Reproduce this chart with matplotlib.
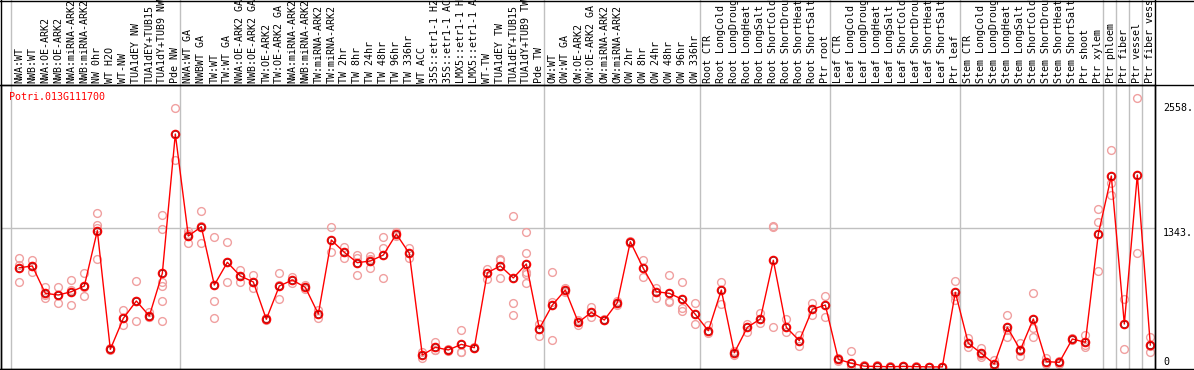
import matplotlib
matplotlib.use("Agg")
import matplotlib.pyplot as plt
from matplotlib.lines import Line2D
from matplotlib.transforms import blended_transform_factory

geneID = "Potri.013G111700"

sampleLabels = [
    "NWA:WT", "NWB:WT", "NWA:OE-ARK2", "NWB:OE-ARK2", "NWA:miRNA-ARK2", "NWB:miRNA-ARK2",
    "NW 0hr", "WT H2O", "WT-NW", "TUA1dEY NW", "TUA1dEY+TUB15", "TUA1dY+TUB9 NW", "Pde NW",
    "NWA:WT GA", "NWBWT GA", "TW:WT", "TW:WT GA", "NWA:OE-ARK2 GA", "NWB:OE-ARK2 GA",
    "TW:OE-ARK2", "TW:OE-ARK2 GA", "NWA:miRNA-ARK2", "NWB:miRNA-ARK2", "TW:miRNA-ARK2",
    "TW:miRNA-ARK2", "TW 2hr", "TW 8hr", "TW 24hr", "TW 48hr", "TW 96hr", "TW 336hr",
    "WT ACC", "35S::etr1-1 H2", "35S::etr1-1 AC", "LMX5::etr1-1 H", "LMX5::etr1-1 A",
    "WT-TW", "TUA1dEY TW", "TUA1dEY+TUB15", "TUA1dY+TUB9 TW", "Pde TW",
    "OW:WT", "OW:WT GA", "OW:OE-ARK2", "OW:OE-ARK2 GA", "OW:miRNA-ARK2", "OW:miRNA-ARK2",
    "OW 2hr", "OW 8hr", "OW 24hr", "OW 48hr", "OW 96hr", "OW 336hr",
    "Root CTR", "Root LongCold", "Root LongDroug", "Root LongHeat", "Root LongSalt",
    "Root ShortCold", "Root ShortDrou", "Root ShortHeat", "Root ShortSalt", "Ptr root",
    "Leaf CTR", "Leaf LongCold", "Leaf LongDroug", "Leaf LongHeat", "Leaf LongSalt",
    "Leaf ShortCold", "Leaf ShortDrou", "Leaf ShortHeat", "Leaf ShortSalt", "Ptr leaf",
    "Stem CTR", "Stem LongCold", "Stem LongDroug", "Stem LongHeat", "Stem LongSalt",
    "Stem ShortCold", "Stem ShortDrou", "Stem ShortHeat", "Stem ShortSalt", "Ptr shoot",
    "Ptr xylem", "Ptr phloem", "Ptr fiber", "Ptr vessel", "Ptr fiber vess",
]

# first sample index of every tissue group
groupStarts = [0, 13, 41, 53, 63, 73, 84, 85, 86, 87]

meanExpr = [
    961, 978, 713, 697, 729, 784, 1320, 171, 471, 639, 494, 907, 2255,
    1268, 1358, 794, 1013, 881, 823, 462, 784, 842, 771, 513, 1229, 1110, 1010, 1026,
    1084, 1287, 1100, 116, 190, 165, 219, 187, 913, 978, 862, 997, 371,
    600, 745, 432, 529, 455, 623, 1213, 955, 729, 713, 655, 510,
    351, 745, 138, 384, 465, 1033, 384, 255, 559, 600,
    74, 36, 8, 5, 3, 6, 4, 1, 1, 723,
    229, 132, 29, 384, 165, 465, 52, 45, 271, 239, 1287,
    1849, 416, 1859, 213,
]

repExpr = [
    [1058, 987, 826], [1036, 978, 920], [777, 697, 665], [777, 697, 616], [842, 745, 600],
    [907, 777, 687], [1488, 1370, 1345, 1042], [180, 165], [552, 471, 407], [832, 640, 445],
    [536, 481, 481], [1471, 1333, 826, 784, 639, 445], [2504, 2004],
    [1316, 1203, 1290], [1510, 1197, 1367], [1255, 639, 471], [1207, 820, 1013],
    [939, 820, 881], [891, 762, 823], [470, 455], [907, 655, 790], [874, 810], [790, 752],
    [471, 555], [1358, 1110], [1165, 1052], [1084, 891, 1055], [1078, 955, 1045],
    [1255, 1149, 859], [1307, 1268], [1149, 1055], [145, 87], [245, 160, 165], [175, 155],
    [358, 148, 150], [195, 180], [946, 852], [1042, 859, 1032], [1462, 616, 503],
    [1304, 1100, 923, 810, 900], [416, 303],
    [916, 632, 261], [765, 725], [452, 410], [584, 481], [455, 460], [640, 605],
    [1220, 1205], [1033, 868], [762, 665], [891, 632, 640], [820, 574, 542], [616, 413],
    [407, 326], [820, 610], [116, 155], [413, 339], [526, 430], [1368, 1358, 384],
    [462, 336], [310, 206], [616, 503], [687, 487],
    [90, 60], [155, 5], [18, 2], [19, 0], [5, 1], [10, 2], [6, 2], [1, 0], [1, 0],
    [829, 687, 648],
    [278, 197], [187, 116, 95], [68, 0], [503, 294, 355], [229, 110, 155], [713, 374, 287],
    [87, 30], [60, 30], [280, 262], [310, 197, 210], [1529, 1400, 929],
    [2100, 1778, 1665], [658, 171], [2601, 1100], [287, 148, 205],
]

refLines = [2558, 1343, 0]
refText = ["2558.", "1343.", "0"]

mono = "DejaVu Sans Mono"
W, H = 1194, 370

fig = plt.figure(figsize=(W / 100, H / 100), dpi=100)
# plot box spans pixels x 1..1155, y 85..369
ax = fig.add_axes([1 / W, 1 / H, 1154 / W, 284 / H])

nSamples = len(sampleLabels)
xs = list(range(nSamples))

# replicate circles
for i, reps in enumerate(repExpr):
    ax.plot([i] * len(reps), reps, linestyle="none", marker="o", markersize=5.6,
            markerfacecolor="none", markeredgecolor="#f0a0a0", markeredgewidth=1.0, zorder=2)

ax.plot(xs, meanExpr, color="red", linewidth=1.0, zorder=3)
ax.plot(xs, meanExpr, linestyle="none", marker="o", markersize=5.8,
        markerfacecolor="none", markeredgecolor="red", markeredgewidth=1.1, zorder=4)
ax.plot(xs, meanExpr, linestyle="none", marker="o", markersize=4.6,
        markerfacecolor="none", markeredgecolor="#900000", markeredgewidth=0.5, zorder=5)

ax.set_xlim(-1.41, 87.36)
ax.set_ylim(-19.4, 2730)

# group separators run through the label band too
for g in groupStarts:
    ax.axvline(g - 0.64, 0, 1.3, color="#c0c0c0", linewidth=1.0, clip_on=False, zorder=1)
ax.axhline(1343, color="#c0c0c0", linewidth=1.0, zorder=1)

ax.xaxis.tick_top()
ax.set_xticks(xs)
ax.set_xticklabels(sampleLabels, rotation=90, fontfamily=mono, fontsize=7.2)
ax.tick_params(axis="x", length=0, pad=1.5)
ax.set_yticks([])

for sp in ax.spines.values():
    sp.set_color("black")
    sp.set_linewidth(1.0)

ax.text(8 / 1154, 0.959, geneID, transform=ax.transAxes, color="red",
        fontfamily=mono, fontsize=7.2, va="center", ha="left")

tr = blended_transform_factory(ax.transAxes, ax.transData)
for val, txt in zip(refLines, refText):
    va = "bottom" if val == 0 else "top"
    ax.text(1.007, val, txt, transform=tr, fontfamily=mono, fontsize=7.2,
            va=va, ha="left", clip_on=False)

# outer frame lines
for y in (0.5, 85, 369):
    fig.add_artist(Line2D([0, 1], [1 - y / H, 1 - y / H], color="black", linewidth=1.0,
                          transform=fig.transFigure))
for x in (1, 1155):
    fig.add_artist(Line2D([x / W, x / W], [1 / H, 1], color="black", linewidth=1.0,
                          transform=fig.transFigure))

fig.savefig("out.png", dpi=100)
